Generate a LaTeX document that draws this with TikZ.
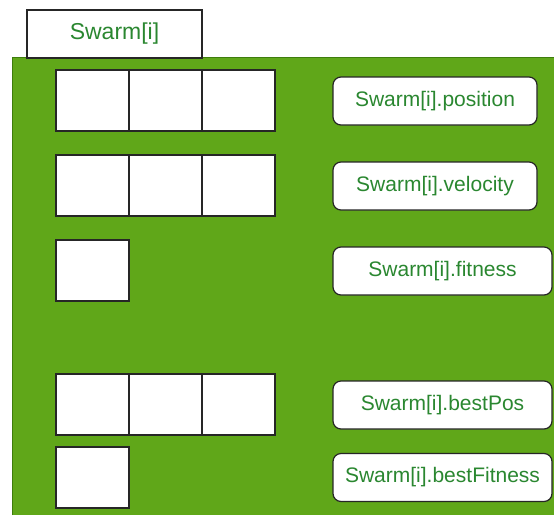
\documentclass[tikz,border=0pt]{standalone}
\usepackage{fontspec}
\setmainfont{Liberation Sans}
\usepackage{tikz}
\usetikzlibrary{positioning}
\definecolor{panelgreen}{RGB}{96,167,25}
\definecolor{paneledge}{RGB}{62,125,12}
\definecolor{textgreen}{RGB}{42,135,48}
\tikzset{
cell/.style={
draw=black!85,
line width=1.6pt,
fill=white,
minimum width=73pt,
minimum height=61pt,
inner sep=0pt,
outer sep=0pt
},
field/.style={
draw=black!85,
line width=1.2pt,
rounded corners=8pt,
fill=white,
minimum height=48pt,
inner sep=0pt,
text=textgreen,
font=\fontsize{21}{25}\selectfont
},
tab/.style={
draw=black!85,
line width=1.2pt,
fill=white,
minimum width=175pt,
minimum height=48pt,
text=textgreen,
font=\fontsize{23}{27}\selectfont
}
}

\begin{document}
\begin{tikzpicture}[x=1pt,y=-1pt,node distance=0pt]
\useasboundingbox (0,0) rectangle (554,515);
\fill[panelgreen] (12,57) rectangle (554,515);
\draw[paneledge,line width=1.2pt] (12.6,515) -- (12.6,57.6) -- (554,57.6);
\node[tab](t) at (114.5,34){Swarm[i]};

\node[cell](p1) at (92.5,100.5){};
\node[cell,right=of p1](p2){};
\node[cell,right=of p2](p3){};
\node[cell](v1) at (92.5,185.5){};
\node[cell,right=of v1](v2){};
\node[cell,right=of v2](v3){};
\node[cell](f1) at (92.5,270.5){};
\node[cell](b1) at (92.5,404.5){};
\node[cell,right=of b1](b2){};
\node[cell,right=of b2](b3){};
\node[cell](bf1) at (92.5,477.5){};

\node[field,minimum width=204pt](pos) at (435,101){Swarm[i].position};
\node[field,minimum width=204pt](vel) at (435,186){Swarm[i].velocity};
\node[field,minimum width=219pt](fit) at (442.5,271){Swarm[i].fitness};
\node[field,minimum width=219pt](bpos) at (442.5,405){Swarm[i].bestPos};
\node[field,minimum width=219pt](bfit) at (442.5,477.5){Swarm[i].bestFitness};
\end{tikzpicture}
\end{document}
